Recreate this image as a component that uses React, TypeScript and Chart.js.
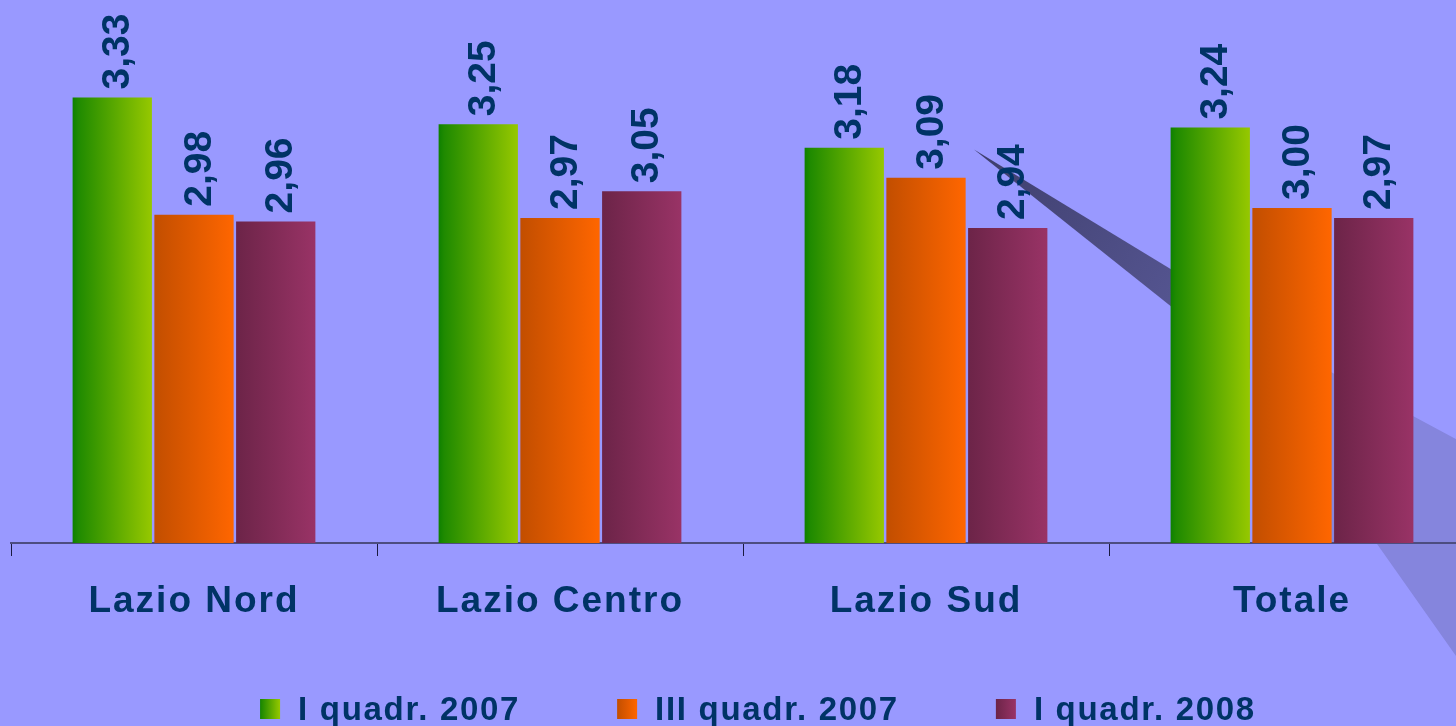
import React, { useEffect, useRef } from "react";
import { Chart, registerables } from "chart.js";

Chart.register(...registerables);

// ---- data ----
const categories = ["Lazio Nord", "Lazio Centro", "Lazio Sud", "Totale"];
const seriesLabels = ["I quadr. 2007", "III quadr. 2007", "I quadr. 2008"];
const quadr1_2007 = [3.33, 3.25, 3.18, 3.24];
const quadr3_2007 = [2.98, 2.97, 3.09, 3.0];
const quadr1_2008 = [2.96, 3.05, 2.94, 2.97];
const yMin = 2;
const yMax = 3.6;

// ---- styles ----
const FONT = "'Liberation Sans', Arial, Helvetica, sans-serif";
const TEXT = "#003366";
const BG = "#9999ff";
const solidColors = ["#5fa400", "#e05a00", "#852d5a"];
const gradientStops: [number, string][][] = [
  [[0, "#0e8000"], [0.07, "#1f8a00"], [1, "#96c800"]],
  [[0, "#c24e00"], [1, "#ff6600"]],
  [[0, "#6c2448"], [1, "#993366"]],
];

const backdropPlugin = {
  id: "backdrop",
  beforeDraw(chart: any) {
    const { ctx, chartArea: a } = chart;
    if (!a) return;
    const W = a.right - a.left;
    const H = a.bottom - a.top;
    const P = (fx: number, fy: number): [number, number] => [a.left + fx * W, a.top + fy * H];
    ctx.save();
    // light shadow band
    ctx.beginPath();
    const light = [P(0.901, 0.68), P(1.01, 0.84), P(1.01, 1.3), P(0.9331, 1.002), P(0.901, 1.002)];
    light.forEach(([x, y], i) => (i ? ctx.lineTo(x, y) : ctx.moveTo(x, y)));
    ctx.closePath();
    ctx.fillStyle = "#8585dd";
    ctx.fill();
    // dark shadow wedge
    const t = P(0.6578, 0.2659);
    const e = P(0.8463, 0.62);
    const g = ctx.createLinearGradient(t[0], t[1], e[0], e[1]);
    g.addColorStop(0, "#3e3e6c");
    g.addColorStop(1, "#5c5c9c");
    ctx.beginPath();
    const dark = [t, P(0.8463, 0.5787), P(0.8463, 0.676)];
    dark.forEach(([x, y], i) => (i ? ctx.lineTo(x, y) : ctx.moveTo(x, y)));
    ctx.closePath();
    ctx.fillStyle = g;
    ctx.fill();
    ctx.restore();
    (ctx as any).letterSpacing = "2px";
  },
};

const gradientPlugin = {
  id: "barGradient",
  beforeDatasetsDraw(chart: any) {
    const ctx = chart.ctx;
    chart.data.datasets.forEach((_ds: any, di: number) => {
      const meta = chart.getDatasetMeta(di);
      meta.data.forEach((el: any) => {
        const { x, width } = el.getProps(["x", "width"], true);
        const g = ctx.createLinearGradient(x - width / 2, 0, x + width / 2, 0);
        gradientStops[di].forEach(([o, c]) => g.addColorStop(o, c));
        el.options = { ...el.options, backgroundColor: g };
      });
    });
  },
};

const valueLabelPlugin = {
  id: "valueLabels",
  afterDatasetsDraw(chart: any) {
    const ctx = chart.ctx;
    const size = 39;
    chart.data.datasets.forEach((ds: any, di: number) => {
      const meta = chart.getDatasetMeta(di);
      meta.data.forEach((el: any, i: number) => {
        const txt = Number(ds.data[i]).toFixed(2).replace(".", ",");
        ctx.save();
        (ctx as any).letterSpacing = "0px";
        ctx.translate(el.x + 0.36 * size + 2.5, el.y - 8);
        ctx.rotate(-Math.PI / 2);
        ctx.font = `bold ${size}px ${FONT}`;
        ctx.fillStyle = TEXT;
        ctx.textAlign = "left";
        ctx.textBaseline = "alphabetic";
        ctx.fillText(txt, 0, 0);
        ctx.restore();
      });
    });
  },
};

const legendPlugin = {
  id: "customLegend",
  afterDraw(chart: any) {
    const ctx = chart.ctx;
    const box = 20;
    const gapText = 18;
    const gapItem = 97;
    const center = 758;
    const H = chart.height;
    ctx.save();
    ctx.font = `bold 33px ${FONT}`;
    (ctx as any).letterSpacing = "1.7px";
    const items = chart.data.datasets.map((ds: any) => ({ text: ds.label, w: ctx.measureText(ds.label).width }));
    const total = items.reduce((s: number, it: any) => s + box + gapText + it.w, 0) + gapItem * (items.length - 1);
    let x = center - total / 2;
    const boxTop = H - 27;
    const baseline = H - 6;
    items.forEach((it: any, i: number) => {
      const g = ctx.createLinearGradient(x, 0, x + box, 0);
      gradientStops[i].forEach(([o, c]) => g.addColorStop(o, c));
      ctx.fillStyle = g;
      ctx.fillRect(x, boxTop, box, box);
      ctx.fillStyle = TEXT;
      ctx.textAlign = "left";
      ctx.textBaseline = "alphabetic";
      ctx.fillText(it.text, x + box + gapText, baseline);
      x += box + gapText + it.w + gapItem;
    });
    ctx.restore();
  },
};

export default function App() {
  const ref = useRef<HTMLCanvasElement | null>(null);

  useEffect(() => {
    document.body.style.margin = "0";
    document.body.style.background = BG;
    document.body.style.overflow = "hidden";
    const canvas = ref.current;
    if (!canvas) return;
    const series = [quadr1_2007, quadr3_2007, quadr1_2008];
    const chart = new Chart(canvas, {
      type: "bar",
      data: {
        labels: categories,
        datasets: series.map((data, i) => ({
          label: seriesLabels[i],
          data,
          backgroundColor: solidColors[i],
          borderWidth: 0,
          barPercentage: 0.97,
          categoryPercentage: 0.67,
        })),
      },
      options: {
        responsive: false,
        maintainAspectRatio: false,
        devicePixelRatio: 1,
        animation: false,
        layout: { padding: { left: 11, right: 5, top: 7, bottom: 77.6 } },
        plugins: {
          legend: { display: false },
          tooltip: { enabled: false },
        },
        scales: {
          x: {
            offset: true,
            grid: {
              display: true,
              offset: true,
              drawOnChartArea: false,
              drawTicks: true,
              tickLength: 13,
              color: "#1a1a40",
              lineWidth: 1,
            },
            border: { display: true, color: "#4d4d80", width: 2 },
            ticks: {
              color: TEXT,
              font: { family: FONT, size: 37, weight: "bold", lineHeight: 1.2 },
              padding: 24,
              maxRotation: 0,
              autoSkip: false,
            },
          },
          y: { display: false, min: yMin, max: yMax },
        },
      },
      plugins: [backdropPlugin, gradientPlugin, valueLabelPlugin, legendPlugin],
    } as any);
    return () => chart.destroy();
  }, []);

  return (
    <div
      style={{
        position: "fixed",
        left: 0,
        top: 0,
        width: 1456,
        height: 726,
        overflow: "hidden",
        background: BG,
      }}
    >
      <canvas ref={ref} width={1480} height={726} style={{ display: "block" }} />
    </div>
  );
}
